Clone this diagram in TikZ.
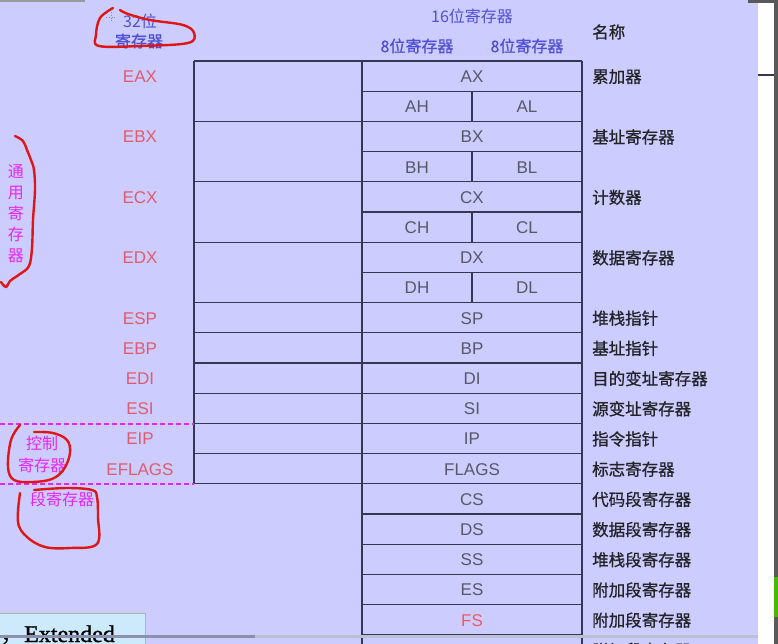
\documentclass[tikz,border=0pt]{standalone}
\usepackage{fontspec}
\setmainfont{Liberation Sans}
\newfontfamily\cjk{Noto Sans CJK SC}
\newfontfamily\cjkb{Noto Sans CJK SC}[FakeBold=0.8]
\newfontfamily\serifb{Liberation Serif}[FakeBold=1.2]
\definecolor{bgC}{RGB}{204,204,255}
\definecolor{lineC}{RGB}{55,55,85}
\definecolor{redC}{RGB}{222,92,112}
\definecolor{fsC}{RGB}{240,90,100}
\definecolor{grayC}{RGB}{88,88,104}
\definecolor{nameC}{RGB}{35,35,40}
\definecolor{blueC}{RGB}{80,80,210}
\definecolor{magC}{RGB}{228,40,240}
\definecolor{penC}{RGB}{222,22,22}
\definecolor{boxC}{RGB}{204,234,252}
\definecolor{thumbC}{RGB}{140,144,172}
\definecolor{trackC}{RGB}{188,192,212}
\tikzset{
  tline/.style={draw=lineC, line width=1.3pt},
  regA/.style={text=redC, inner sep=0pt, font=\fontsize{17}{20}\selectfont},
  regB/.style={text=grayC, inner sep=0pt, font=\fontsize{17}{20}\selectfont},
  regname/.style={anchor=west, text=nameC, inner sep=0pt, font=\cjkb\fontsize{16.5}{20}\selectfont},
  hdr/.style={text=blueC, inner sep=0pt, font=\cjk\fontsize{16}{20}\selectfont},
  annot/.style={text=magC, inner sep=0pt, align=center},
  pen/.style={draw=penC, line width=2.4pt, line cap=round, line join=round},
  magdash/.style={draw=magC, line width=2pt, dash pattern=on 5pt off 3pt}
}
\begin{document}
\begin{tikzpicture}[x=1pt,y=-1pt]
\useasboundingbox (0,0) rectangle (778,644);
\clip (0,0) rectangle (778,644);
% screen background
\fill[bgC] (0,0) rectangle (758,644);
\fill[white] (758,0) rectangle (774,644);
\fill[black!65] (774,0) rectangle (778,644);
\fill[black!65] (748,0) rectangle (778,3);
\fill[black!40] (0,0) rectangle (85,2);
\draw[lineC, line width=2pt] (758,75.5) -- (774,75.5);
\fill[green!45!olive] (774,577) rectangle (778,617);
% table lines
\draw[tline] (194,61) -- (194,483.8);
\draw[tline] (362,61) -- (362,644);
\draw[tline] (582,61) -- (582,644);
\foreach \k in {0,2,4,6,8,9,10,11,12,13,14}
  \draw[tline] (194,{61+30.2*\k}) -- (582,{61+30.2*\k});
\foreach \k in {1,3,5,7,15,16,17,18,19}
  \draw[tline] (362,{61+30.2*\k}) -- (582,{61+30.2*\k});
\foreach \k in {1,3,5,7}
  \draw[tline] (472,{61+30.2*\k}) -- (472,{61+30.2*(\k+1)});
% headers
\node[hdr] (h32a) at (140,21) {32位};
\node[hdr, font=\cjkb\fontsize{16}{20}\selectfont] (h32b) at (139,41) {寄存器};
\node[hdr] (h16) at (472,16) {16位寄存器};
\node[hdr, font=\cjkb\fontsize{16}{20}\selectfont] (h8a) at (417,46) {8位寄存器};
\node[hdr, font=\cjkb\fontsize{16}{20}\selectfont] (h8b) at (527,46) {8位寄存器};
\node[regname] (hname) at (592,32) {名称};
% 32-bit names
\foreach \k/\lab in {0/EAX,2/EBX,4/ECX,6/EDX,8/ESP,9/EBP,10/EDI,11/ESI,12/EIP,13/EFLAGS}
  \node[regA] (r32-\k) at (140,{61+30.2*(\k+0.5)+0.5}) {\lab};
% 16-bit names
\foreach \k/\lab in {0/AX,2/BX,4/CX,6/DX,8/SP,9/BP,10/DI,11/SI,12/IP,13/FLAGS,14/CS,15/DS,16/SS,17/ES}
  \node[regB] (r16-\k) at (472,{61+30.2*(\k+0.5)+0.5}) {\lab};
\node[regA, text=fsC] (r16-18) at (472,{61+30.2*18.5+0.5}) {FS};
\node[regA, text=fsC] (r16-19) at (472,{61+30.2*19.5+0.5}) {GS};
% 8-bit names
\foreach \k/\l in {1/A,3/B,5/C,7/D}{
  \node[regB] (r8h-\k) at (417,{61+30.2*(\k+0.5)+0.5}) {\l H};
  \node[regB] (r8l-\k) at (527,{61+30.2*(\k+0.5)+0.5}) {\l L};
}
% descriptions
\foreach \k/\txt in {0/累加器,2/基址寄存器,4/计数器,6/数据寄存器,8/堆栈指针,9/基址指针,10/目的变址寄存器,11/源变址寄存器,12/指令指针,13/标志寄存器,14/代码段寄存器,15/数据段寄存器,16/堆栈段寄存器,17/附加段寄存器,18/附加段寄存器,19/附加段寄存器}
  \node[regname] (d-\k) at (592,{61+30.2*(\k+0.5)+0.5}) {\txt};
% magenta annotations
\draw[magdash] (0,423.5) -- (194,423.5);
\draw[magdash] (0,483.5) -- (194,483.5);
\node[annot, font=\cjk\fontsize{16}{21}\selectfont] (ty) at (16,214) {通\\用\\寄\\存\\器};
\node[annot, font=\cjk\fontsize{16}{22}\selectfont] (kz) at (42,454) {控制\\寄存器};
\node[annot, font=\cjk\fontsize{16}{20}\selectfont] (dj) at (62,499) {段寄存器};
% red pen marks
\draw[pen] plot[smooth, tension=0.6] coordinates {(113,8) (100,18) (96,35) (99,46) (140,46) (188,43) (194,33) (183,25) (150,20) (128,14) (120,10)};
\draw[pen] plot[smooth, tension=0.6] coordinates {(15,136) (23,141) (27,150) (31,160) (34,170) (35,190) (33,220) (32,248) (29,266) (20,274) (10,281) (6,287) (1,282)};
\draw[pen] plot[smooth, tension=0.6] coordinates {(20,425) (11,440) (8,467) (14,480) (32,482) (52,479) (64,469) (70,453) (67,440) (53,433) (34,432)};
\draw[pen] plot[smooth, tension=0.6] coordinates {(20,493) (18,522) (27,537) (45,547) (70,548) (97,544) (98,517) (97,497) (92,490) (67,488) (34,490)};
% cursor crosshair
\draw[black!45, line width=0.8pt, dotted] (106,17) -- (117,17) (111.5,12) -- (111.5,22);
% bottom-left slide snippet
\filldraw[fill=boxC, draw=black!30] (-2,613) rectangle (145,650);
\node[anchor=base west, inner sep=0pt, font=\fontsize{24}{26}\selectfont] (ext) at (0,642) {{\cjk ，}{\serifb Extended}};
% scroll bar
\fill[trackC] (0,634.5) rectangle (758,638);
\fill[thumbC] (0,634.5) rectangle (255,638);
\end{tikzpicture}
\end{document}
